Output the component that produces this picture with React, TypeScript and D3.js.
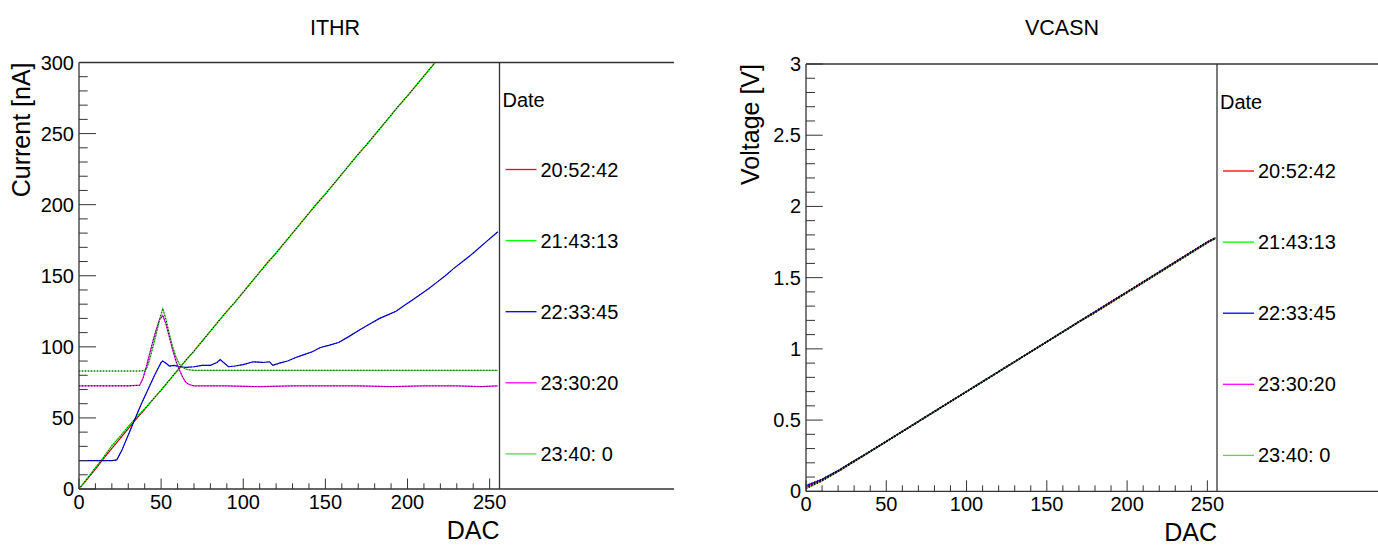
import React from "react";
import * as d3 from "d3";

// ---------- DATA ----------
const seriesNames = ["20:52:42", "21:43:13", "22:33:45", "23:30:20", "23:40: 0"];
const seriesColors = ["#ff0000", "#00ff00", "#0000ff", "#ff00ff", "#59d454"];

const xTickValues = [0, 50, 100, 150, 200, 250];
const ithrTickValues = [0, 50, 100, 150, 200, 250, 300];
const vcasnTickValues = [0, 0.5, 1, 1.5, 2, 2.5, 3];

// ITHR: [DAC, current nA]
const ithrRed: [number, number][] = [
  [0, 0], [5, 7], [10, 14], [15, 21.5], [20, 28.5], [25, 35.5], [30, 42.5], [35, 49.5], [40, 56],
  [45, 63], [50, 69.5], [55, 76.5], [60, 83.5], [65, 90.5], [70, 97], [75, 104], [80, 111],
  [85, 118], [90, 125], [95, 131.5], [100, 138.5], [105, 145.5], [110, 152.5], [115, 159.5],
  [120, 166], [125, 173], [130, 180], [135, 187], [140, 194], [145, 201], [150, 207.5],
  [155, 214.5], [160, 221.5], [165, 228.5], [170, 235.5], [175, 242], [180, 249], [185, 256],
  [190, 263], [195, 270], [200, 276.5], [205, 283.5], [210, 290.5], [215, 297.5], [220, 304.5],
  [225, 311], [230, 318], [235, 325], [240, 332], [245, 339], [250, 345.5], [255, 352.5],
];
const ithrGreen: [number, number][] = [
  [0, 0], [5, 7.5], [10, 15], [15, 22.5], [20, 30.5], [25, 37], [30, 44], [35, 50.5], [40, 56.5],
  [45, 63], [50, 69.5], [55, 76.5], [60, 83.5], [65, 90.5], [70, 97], [75, 104], [80, 111],
  [85, 118], [90, 125], [95, 131.5], [100, 138.5], [105, 145.5], [110, 152.5], [115, 159.5],
  [120, 166], [125, 173], [130, 180], [135, 187], [140, 194], [145, 201], [150, 207.5],
  [155, 214.5], [160, 221.5], [165, 228.5], [170, 235.5], [175, 242], [180, 249], [185, 256],
  [190, 263], [195, 270], [200, 276.5], [205, 283.5], [210, 290.5], [215, 297.5], [220, 304.5],
  [225, 311], [230, 318], [235, 325], [240, 332], [245, 339], [250, 345.5], [255, 352.5],
];
const ithrBlue: [number, number][] = [
  [0, 20], [10, 20], [20, 20], [23, 20.5], [26, 27], [30, 38], [34, 49], [38, 60], [42, 70],
  [46, 80], [50, 89], [51, 90], [53, 88.5], [55, 86.5], [58, 87], [61, 86], [65, 85.5], [70, 86],
  [75, 87], [80, 87], [84, 89], [86, 91], [88, 89], [91, 86], [95, 86.5], [100, 87.5], [106, 89.5],
  [112, 89], [116, 89.5], [118, 87], [122, 88.5], [127, 90], [132, 92.5], [137, 94.5], [142, 96.5],
  [147, 99.5], [152, 101], [158, 103], [164, 107], [171, 112], [177, 116], [183, 120], [188, 122.5],
  [193, 125], [198, 129], [203, 133], [208, 137], [213, 141], [218, 145.5], [223, 150], [228, 155],
  [233, 159.5], [238, 164], [243, 169], [248, 174], [252, 178], [255, 181],
];
const ithrMagenta: [number, number][] = [
  [0, 72.5], [10, 72.5], [20, 72.5], [30, 72.5], [37, 73], [39, 78], [41, 86], [43, 95], [45, 104],
  [47, 112], [49, 119], [51, 122], [53, 116], [55, 107], [57, 98], [59, 90], [61, 84], [63, 79],
  [65, 75], [67, 73.5], [70, 72.5], [90, 72.5], [110, 72], [130, 72.5], [150, 72.5], [170, 72.5],
  [190, 72], [210, 72.5], [230, 72.5], [245, 72], [255, 72.5],
];
const ithrLightGreen: [number, number][] = [
  [0, 83], [10, 83], [20, 83], [30, 83], [38, 83], [41, 84], [43, 91], [45, 100], [47, 109],
  [49, 119], [51, 127], [53, 119], [55, 109], [57, 100], [59, 93], [61, 88], [63, 85.5], [66, 84],
  [70, 83.5], [100, 83.5], [130, 83.5], [160, 83.5], [190, 83.5], [220, 83.5], [255, 83.5],
];

// VCASN: [DAC, voltage V]
const vcasnRed: [number, number][] = [
  [0, 0.02], [10, 0.075], [20, 0.14], [30, 0.21], [40, 0.28], [50, 0.35], [60, 0.42], [70, 0.49],
  [80, 0.56], [90, 0.63], [100, 0.7], [110, 0.77], [120, 0.84], [130, 0.91], [140, 0.98],
  [150, 1.05], [160, 1.12], [170, 1.19], [180, 1.255], [190, 1.325], [200, 1.395], [210, 1.465],
  [220, 1.535], [230, 1.605], [240, 1.675], [250, 1.745], [255, 1.78],
];
const vcasnGreen: [number, number][] = [
  [0, 0.03], [10, 0.08], [20, 0.145], [30, 0.21], [40, 0.28], [50, 0.35], [60, 0.42], [70, 0.49],
  [80, 0.56], [90, 0.63], [100, 0.7], [110, 0.77], [120, 0.84], [130, 0.91], [140, 0.98],
  [150, 1.05], [160, 1.12], [170, 1.19], [180, 1.26], [190, 1.33], [200, 1.4], [210, 1.47],
  [220, 1.54], [230, 1.61], [240, 1.68], [250, 1.75], [255, 1.78],
];
const vcasnBlue: [number, number][] = [
  [0, 0.04], [10, 0.085], [20, 0.145], [30, 0.215], [40, 0.28], [50, 0.35], [60, 0.42], [70, 0.49],
  [80, 0.56], [90, 0.63], [100, 0.7], [110, 0.77], [120, 0.84], [130, 0.91], [140, 0.98],
  [150, 1.05], [160, 1.12], [170, 1.19], [180, 1.26], [190, 1.33], [200, 1.4], [210, 1.47],
  [220, 1.54], [230, 1.61], [240, 1.68], [250, 1.75], [255, 1.775],
];
const vcasnMagenta: [number, number][] = [
  [0, 0.03], [10, 0.08], [20, 0.14], [30, 0.21], [40, 0.28], [50, 0.35], [60, 0.42], [70, 0.49],
  [80, 0.56], [90, 0.63], [100, 0.7], [110, 0.77], [120, 0.84], [130, 0.91], [140, 0.98],
  [150, 1.05], [160, 1.12], [170, 1.19], [180, 1.26], [190, 1.33], [200, 1.4], [210, 1.47],
  [220, 1.54], [230, 1.61], [240, 1.68], [250, 1.75], [255, 1.78],
];
const vcasnLightGreen: [number, number][] = [
  [0, 0.02], [10, 0.075], [20, 0.14], [30, 0.21], [40, 0.28], [50, 0.35], [60, 0.42], [70, 0.49],
  [80, 0.56], [90, 0.63], [100, 0.7], [110, 0.77], [120, 0.84], [130, 0.91], [140, 0.98],
  [150, 1.05], [160, 1.12], [170, 1.19], [180, 1.255], [190, 1.325], [200, 1.395], [210, 1.465],
  [220, 1.535], [230, 1.605], [240, 1.675], [250, 1.745], [255, 1.775],
];

const ithrSeries = [ithrRed, ithrGreen, ithrBlue, ithrMagenta, ithrLightGreen];
const vcasnSeries = [vcasnRed, vcasnGreen, vcasnBlue, vcasnMagenta, vcasnLightGreen];

// ---------- LAYOUT ----------
const FONT = "'Liberation Sans', Arial, Helvetica, sans-serif";

type PanelCfg = {
  id: string;
  title: string;
  titleX: number;
  yLabel: string;
  x0: number;
  x1: number;
  yTop: number;
  yBot: number;
  frameRight: number;
  yMax: number;
  yMinorStep: number;
  yTicks: number[];
  data: [number, number][][];
  yMajorLen: number;
  yMinorLen: number;
  xMajorLen: number;
  xMinorLen: number;
  yTitleX: number;
  markerWidth: number;
};

function Panel({ cfg }: { cfg: PanelCfg }) {
  const x = d3.scaleLinear().domain([0, 256]).range([cfg.x0, cfg.x1]);
  const y = d3.scaleLinear().domain([0, cfg.yMax]).range([cfg.yBot, cfg.yTop]);
  const line = d3
    .line<[number, number]>()
    .x((d) => x(d[0]))
    .y((d) => y(d[1]));

  const xMinor = d3.range(0, 256, 10).filter((v) => !xTickValues.includes(v));
  const yMinor = d3
    .range(0, cfg.yMax + cfg.yMinorStep / 2, cfg.yMinorStep)
    .map((v) => +v.toFixed(4))
    .filter((v) => !cfg.yTicks.some((t) => Math.abs(t - v) < 1e-6));
  const fmt = d3.format("~g");
  const frameColor = "#333";
  const legendTop = cfg.yTop;

  return (
    <g>
      <defs>
        <clipPath id={`clip-${cfg.id}`}>
          <rect x={cfg.x0} y={cfg.yTop} width={cfg.x1 - cfg.x0} height={cfg.yBot - cfg.yTop} />
        </clipPath>
      </defs>
      {/* title */}
      <text x={cfg.titleX} y={35} textAnchor="middle" fontFamily={FONT} fontSize={21.5} fill="#000">
        {cfg.title}
      </text>
      {/* series */}
      <g clipPath={`url(#clip-${cfg.id})`}>
        {cfg.data.map((s, i) => (
          <path key={i} d={line(s) || ""} fill="none" stroke={seriesColors[i]} strokeWidth={1.2} />
        ))}
        {cfg.data.map((s, i) => (
          <path
            key={"m" + i}
            d={line(s) || ""}
            fill="none"
            stroke="#000"
            strokeWidth={cfg.markerWidth}
            strokeDasharray="1 2"
            opacity={0.85}
          />
        ))}
      </g>
      {/* frame */}
      <line x1={cfg.x0} x2={cfg.frameRight} y1={cfg.yTop} y2={cfg.yTop} stroke={frameColor} strokeWidth={1.3} />
      <line x1={cfg.x0} x2={cfg.frameRight} y1={cfg.yBot} y2={cfg.yBot} stroke={frameColor} strokeWidth={1.3} />
      <line x1={cfg.x0} x2={cfg.x0} y1={cfg.yTop} y2={cfg.yBot} stroke={frameColor} strokeWidth={1.3} />
      <line x1={cfg.x1} x2={cfg.x1} y1={cfg.yTop} y2={cfg.yBot} stroke={frameColor} strokeWidth={1.3} />
      {/* x ticks */}
      {xTickValues.map((v) => (
        <g key={"xt" + v}>
          <line x1={x(v)} x2={x(v)} y1={cfg.yBot} y2={cfg.yBot - cfg.xMajorLen} stroke={frameColor} />
          <text
            x={x(v)}
            y={cfg.yBot + 13}
            textAnchor="middle"
            dominantBaseline="central"
            fontFamily={FONT}
            fontSize={20}
            fill="#000"
          >
            {fmt(v)}
          </text>
        </g>
      ))}
      {xMinor.map((v) => (
        <line key={"xm" + v} x1={x(v)} x2={x(v)} y1={cfg.yBot} y2={cfg.yBot - cfg.xMinorLen} stroke={frameColor} />
      ))}
      {/* y ticks */}
      {cfg.yTicks.map((v) => (
        <g key={"yt" + v}>
          <line x1={cfg.x0} x2={cfg.x0 + cfg.yMajorLen} y1={y(v)} y2={y(v)} stroke={frameColor} />
          <text
            x={cfg.x0 - 5}
            y={y(v)}
            textAnchor="end"
            dominantBaseline="central"
            fontFamily={FONT}
            fontSize={20}
            fill="#000"
          >
            {fmt(v)}
          </text>
        </g>
      ))}
      {yMinor.map((v) => (
        <line key={"ym" + v} x1={cfg.x0} x2={cfg.x0 + cfg.yMinorLen} y1={y(v)} y2={y(v)} stroke={frameColor} />
      ))}
      {/* axis titles */}
      <text
        x={cfg.x1}
        y={cfg.yBot + 50}
        textAnchor="end"
        fontFamily={FONT}
        fontSize={25}
        fill="#000"
      >
        DAC
      </text>
      <text
        transform={`translate(${cfg.yTitleX},${cfg.yTop}) rotate(-90)`}
        textAnchor="end"
        fontFamily={FONT}
        fontSize={25}
        fill="#000"
      >
        {cfg.yLabel}
      </text>
      {/* legend */}
      <text
        x={cfg.x1 + 3}
        y={legendTop + 37.5}
        dominantBaseline="central"
        fontFamily={FONT}
        fontSize={20}
        fill="#000"
      >
        Date
      </text>
      {seriesNames.map((name, i) => {
        const ly = legendTop + 107 + i * 71.1;
        return (
          <g key={"lg" + i}>
            <line x1={cfg.x1 + 6} x2={cfg.x1 + 37} y1={ly} y2={ly} stroke={seriesColors[i]} strokeWidth={1.3} />
            <text
              x={cfg.x1 + 41}
              y={ly}
              dominantBaseline="central"
              fontFamily={FONT}
              fontSize={20}
              fill="#000"
            >
              {name}
            </text>
          </g>
        );
      })}
    </g>
  );
}

const leftCfg: PanelCfg = {
  id: "ithr",
  title: "ITHR",
  titleX: 335,
  yLabel: "Current [nA]",
  x0: 79,
  x1: 499.5,
  yTop: 62.5,
  yBot: 489,
  frameRight: 674,
  yMax: 300,
  yMinorStep: 10,
  yTicks: ithrTickValues,
  data: ithrSeries,
  yMajorLen: 17,
  yMinorLen: 8.7,
  xMajorLen: 10.5,
  xMinorLen: 5.7,
  yTitleX: 30,
  markerWidth: 1,
};

const rightCfg: PanelCfg = {
  id: "vcasn",
  title: "VCASN",
  titleX: 1062,
  yLabel: "Voltage [V]",
  x0: 806,
  x1: 1217,
  yTop: 64,
  yBot: 491.3,
  frameRight: 1378,
  yMax: 3,
  yMinorStep: 0.1,
  yTicks: vcasnTickValues,
  data: vcasnSeries,
  yMajorLen: 16.7,
  yMinorLen: 9,
  xMajorLen: 11,
  xMinorLen: 6,
  yTitleX: 759,
  markerWidth: 1.6,
};

export default function App() {
  return (
    <svg
      width={1378}
      height={547}
      viewBox="0 0 1378 547"
      style={{ position: "absolute", left: 0, top: 0, background: "#fff" }}
    >
      <rect x={0} y={0} width={1378} height={547} fill="#fff" />
      <Panel cfg={leftCfg} />
      <Panel cfg={rightCfg} />
    </svg>
  );
}
